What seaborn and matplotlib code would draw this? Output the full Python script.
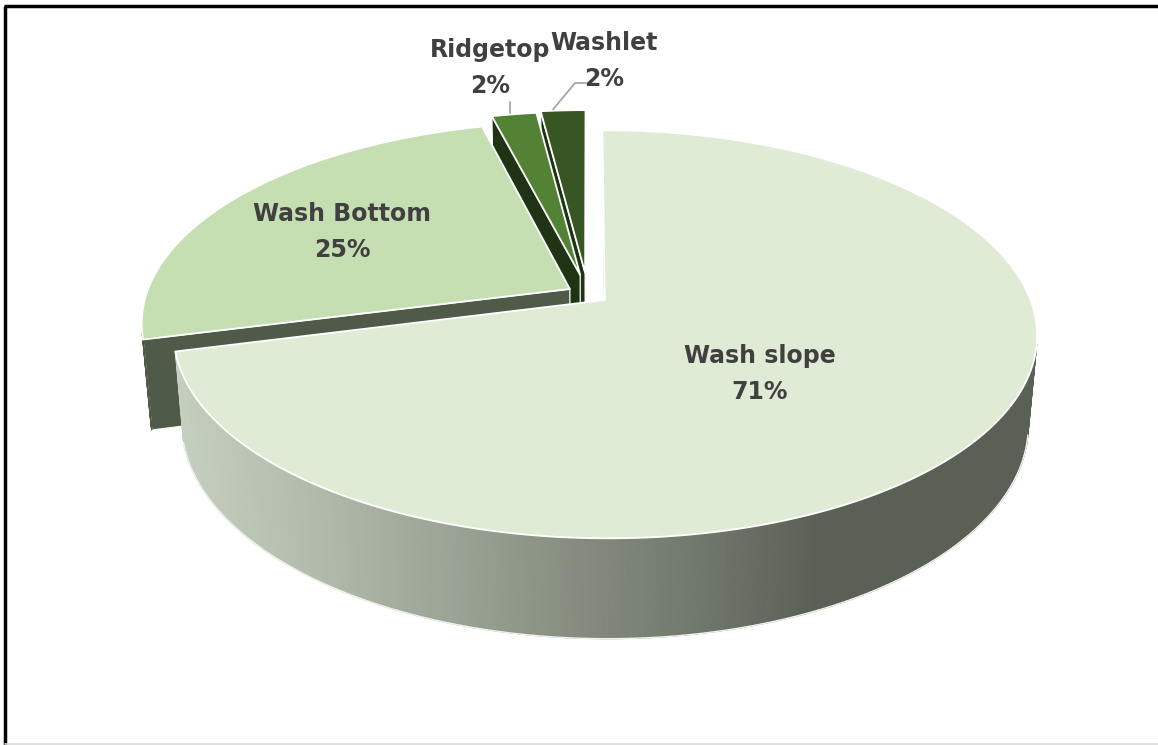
import numpy as np
import matplotlib
matplotlib.use("Agg")
import matplotlib.pyplot as plt
import seaborn as sns
from matplotlib.patches import Polygon
from matplotlib.colors import to_rgb

sns.set_theme(style="white")
plt.rcParams["font.family"] = ["DejaVu Sans"]

# ---- data -------------------------------------------------------------
categories = ["Wash slope", "Wash Bottom", "Ridgetop", "Washlet"]
shares = [71, 25, 2, 2]

# ---- styling ----------------------------------------------------------
top_colors = ["#e0ebd6", "#c5dfb3", "#548235", "#375623"]
wall_colors = ["#9ba694", "#4f5a48", "#1f3414", "#1f3414"]
explode = [0.05, 0.05, 0.10, 0.11]
side_light = np.array(to_rgb("#c6d0c0"))
side_dark = np.array(to_rgb("#5a6055"))

label_pos = {
    "Wash slope": (760, 374),
    "Wash Bottom": (342, 232),
    "Ridgetop": (490, 68),
    "Washlet": (604, 61),
}
label_color = "#404040"
leader_color = "#a6a6a6"

# ---- camera (perspective view of a tilted disc) -----------------------
ELEV = np.deg2rad(26.7)
DIST = 5.36
SX, SY = 2270.0, 2342.0
CX, CY = 588.0, 294.0
THICK = 0.23
cam = np.array([0.0, -DIST * np.cos(ELEV), DIST * np.sin(ELEV)])


def project(X, Y, Z):
    X, Y, Z = np.broadcast_arrays(np.asarray(X, float), np.asarray(Y, float), np.asarray(Z, float))
    s, c = np.sin(ELEV), np.cos(ELEV)
    y = Y * s + Z * c
    z = Y * c - Z * s + DIST
    return CX + SX * X / z, CY - SY * y / z


def depth(X, Y, Z):
    return np.linalg.norm(np.array([X, Y, Z]) - cam)


def faces_camera(normal, point):
    return np.dot(normal, cam - point) > 0


fig = plt.figure(figsize=(11.58, 7.45), dpi=100)
ax = fig.add_axes([0, 0, 1, 1])
ax.set_xlim(0, 1158)
ax.set_ylim(745, 0)
ax.axis("off")

total = float(sum(shares))
bounds = np.concatenate([[0], np.cumsum(shares)]) / total * 360.0

walls = []   # (depth, xy, facecolor, edgecolor, lw)
tops = []
anchors = {}
rim_segments = []

for i, name in enumerate(categories):
    a0, a1 = np.deg2rad(bounds[i]), np.deg2rad(bounds[i + 1])
    mid = 0.5 * (a0 + a1)
    ox, oy = explode[i] * np.sin(mid), explode[i] * np.cos(mid)
    n = max(4, int(np.degrees(a1 - a0) * 1.5))
    th = np.linspace(a0, a1, n)
    ax_x, ax_y = ox + np.sin(th), oy + np.cos(th)

    # top face
    px, py = project(np.r_[ox, ax_x], np.r_[oy, ax_y], 0.0)
    tops.append((np.column_stack([px, py]), top_colors[i]))

    # anchor on the outer rim for leader lines
    ax_m, ay_m = project(ox + np.sin(mid), oy + np.cos(mid), 0.0)
    anchors[name] = (float(ax_m), float(ay_m))

    # outer curved wall
    for k in range(n - 1):
        t0, t1 = th[k], th[k + 1]
        tm = 0.5 * (t0 + t1)
        P = np.array([ox + np.sin(tm), oy + np.cos(tm), -THICK / 2])
        nrm = np.array([np.sin(tm), np.cos(tm), 0.0])
        if not faces_camera(nrm, P):
            continue
        xs = [ox + np.sin(t0), ox + np.sin(t1), ox + np.sin(t1), ox + np.sin(t0)]
        ys = [oy + np.cos(t0), oy + np.cos(t1), oy + np.cos(t1), oy + np.cos(t0)]
        zs = [0, 0, -THICK, -THICK]
        qx, qy = project(xs, ys, zs)
        if i == 0:
            f = np.clip((qx.mean() - 170) / (820 - 170), 0, 1) ** 1.1
            col = tuple(side_light * (1 - f) + side_dark * f)
            rim_segments.append(((qx[3], qx[2]), (qy[3], qy[2])))
        else:
            col = wall_colors[i]
        walls.append((depth(*P), np.column_stack([qx, qy]), col, col, 0.8))

    # radial walls
    for ang, nrm2 in ((a0, np.array([-np.cos(a0), np.sin(a0), 0.0])),
                      (a1, np.array([np.cos(a1), -np.sin(a1), 0.0]))):
        ex, ey = ox + np.sin(ang), oy + np.cos(ang)
        P = np.array([(ox + ex) / 2, (oy + ey) / 2, -THICK / 2])
        if not faces_camera(nrm2, P):
            continue
        qx, qy = project([ox, ex, ex, ox], [oy, ey, ey, oy], [0, 0, -THICK, -THICK])
        walls.append((depth(*P), np.column_stack([qx, qy]), wall_colors[i], "white", 0.9))

# far walls first, then the top faces
for _, xy, fc, ec, lw in sorted(walls, key=lambda w: -w[0]):
    ax.add_patch(Polygon(xy, closed=True, facecolor=fc, edgecolor=ec, lw=lw, joinstyle="round"))

# thin light rim along the bottom of the visible front wall
for sx_, sy_ in rim_segments:
    ax.plot(sx_, sy_, color="#eef2ea", lw=1.0, solid_capstyle="round")

for xy, fc in tops:
    ax.add_patch(Polygon(xy, closed=True, facecolor=fc, edgecolor="white", lw=1.3, joinstyle="round"))

# ---- labels -------------------------------------------------------------
for name, val in zip(categories, shares):
    x, y = label_pos[name]
    ax.text(x, y, f"{name}\n{val}%", ha="center", va="center", fontsize=17,
            fontweight="bold", color=label_color, linespacing=1.6)

# leader lines for the two thin slices
rx, ry = anchors["Ridgetop"]
ax.plot([rx - 4, rx - 4], [ry - 1, 102], color=leader_color, lw=1.3)
wx, wy = anchors["Washlet"]
ax.plot([wx - 10, 575, 586], [wy - 1, 83, 83], color=leader_color, lw=1.3)

# chart frame
ax.plot([5, 5], [745, 6], color="black", lw=2.5, solid_capstyle="butt")
ax.plot([4, 1158], [6, 6], color="black", lw=2.5, solid_capstyle="butt")
ax.plot([5, 1158], [743.5, 743.5], color="#d9d9d9", lw=1.2)

fig.savefig("out.png", dpi=100, facecolor="white")
